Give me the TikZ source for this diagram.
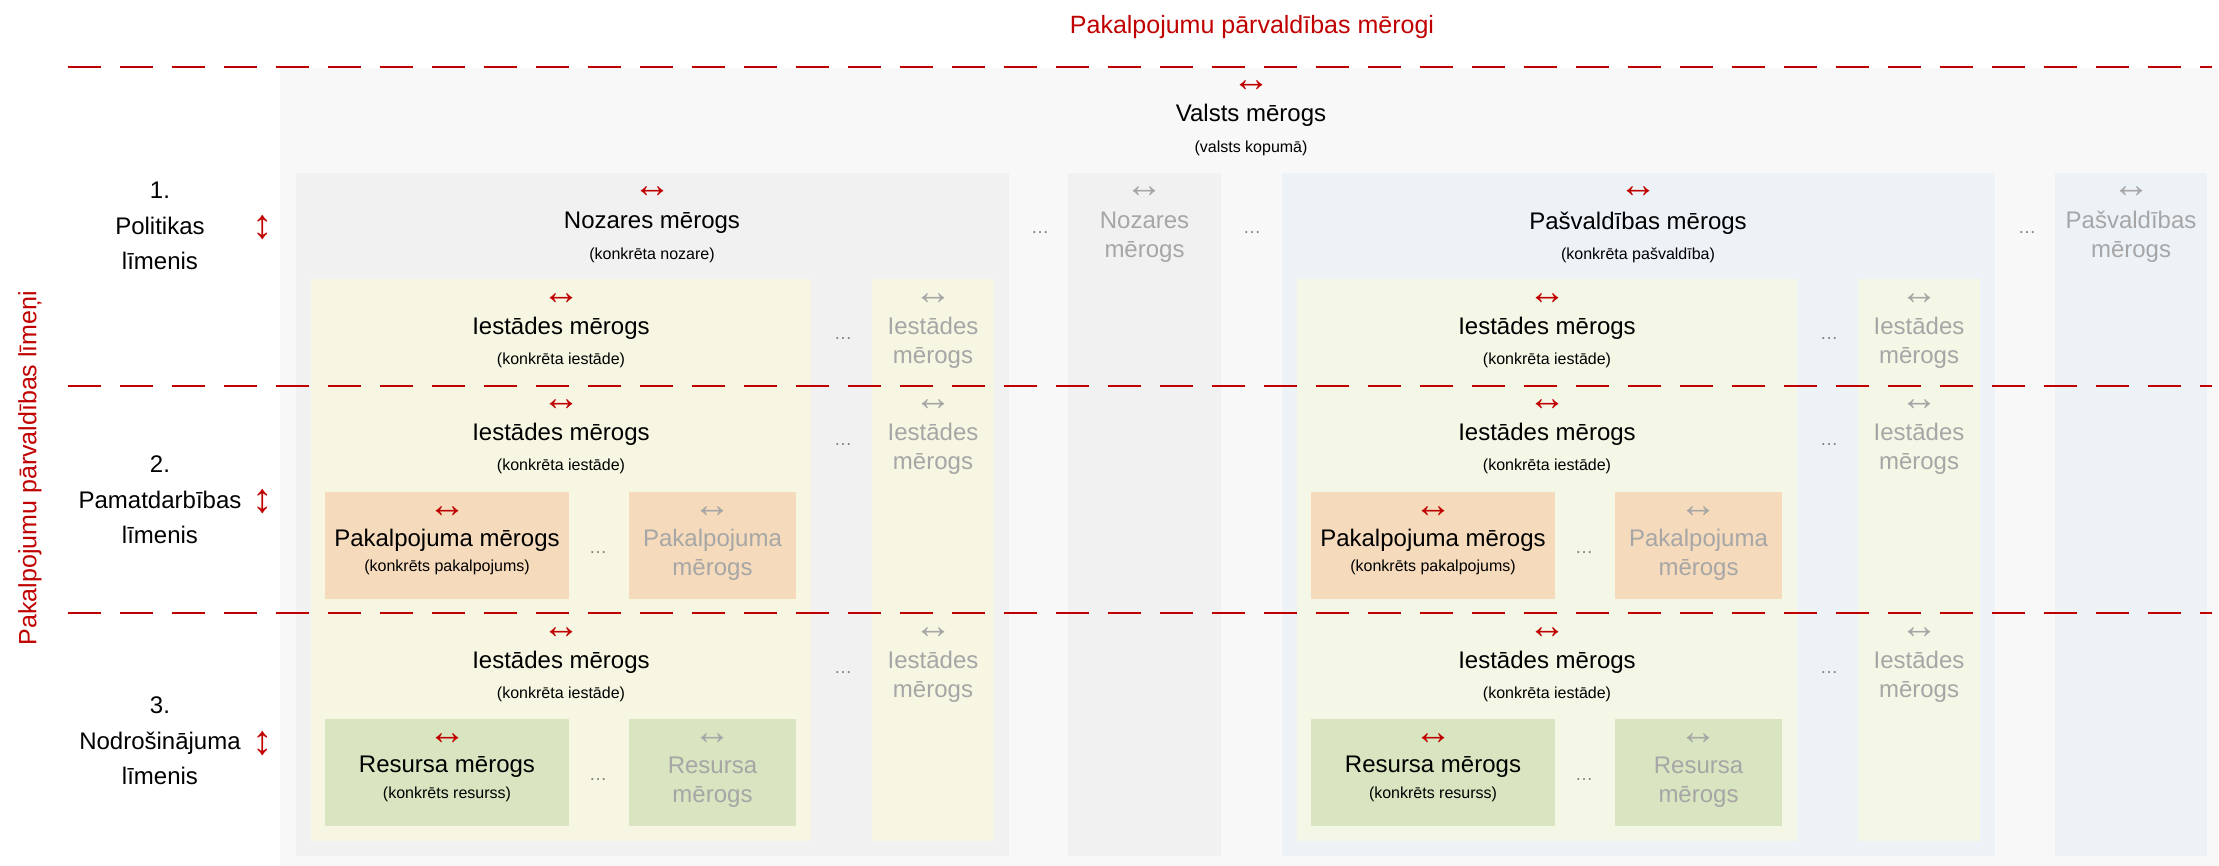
\documentclass[tikz,border=0pt]{standalone}
\usepackage{fontspec}
\setmainfont{Liberation Sans}
\usepackage{xcolor}

\definecolor{redline}{HTML}{C00000}
\definecolor{valstsbg}{HTML}{F8F8F8}
\definecolor{nozbg}{HTML}{F1F1F1}
\definecolor{pasvbg}{HTML}{EDF2F7}
\definecolor{iestbgA}{HTML}{F7F6E2}
\definecolor{iestbgB}{HTML}{F4F6E6}
\definecolor{pakbg}{HTML}{F5DBBC}
\definecolor{resbg}{HTML}{D8E5C0}
\definecolor{ghost}{HTML}{A6A6A6}
\definecolor{dotsgray}{HTML}{808080}

\tikzset{
  area/.style={anchor=north west, inner sep=0pt, outer sep=0pt},
  big/.style={font=\fontsize{24}{29}\selectfont, align=center, inner sep=0pt},
  small/.style={font=\fontsize{16}{19}\selectfont, inner sep=0pt},
  arr/.style={font=\fontsize{38}{40}\selectfont, text=redline, inner sep=0pt},
  varr/.style={arr, font=\fontsize{41}{43}\selectfont},
  ghostarr/.style={arr, text=ghost},
  ghosttxt/.style={big, text=ghost},
  more/.style={font=\fontsize{18}{20}\selectfont, text=dotsgray, inner sep=0pt},
  lvltxt/.style={font=\fontsize{24}{35.5}\selectfont, align=center, inner sep=0pt},
  redtxt/.style={font=\fontsize{25}{30}\selectfont, text=redline, inner sep=0pt},
  divider/.style={draw=redline, line width=2.5pt, dash pattern=on 33pt off 19pt},
}

\begin{document}
\begin{tikzpicture}[x=1pt, y=-1pt]
\useasboundingbox (0,0) rectangle (2219,866);

\node[area, fill=valstsbg, minimum width=1939pt, minimum height=798pt] (valsts) at (280,68) {};
\node[arr] (valsts-arr) at (1251,86) {↔};
\node[big] (valsts-t) at (1251,115) {Valsts mērogs};
\node[small] (valsts-s) at (1251,148) {(valsts kopumā)};

\node[area, fill=nozbg, minimum width=153pt, minimum height=683pt] (nozB) at (1068,173) {};
\node[ghostarr] (nozB-arr) at (1144.5,192) {↔};
\node[ghosttxt] (nozB-t) at (1144.5,237) {Nozares\\mērogs};

\node[area, fill=pasvbg, minimum width=152pt, minimum height=683pt] (pasvB) at (2055,173) {};
\node[ghostarr] (pasvB-arr) at (2131,192) {↔};
\node[ghosttxt] (pasvB-t) at (2131,237) {Pašvaldības\\mērogs};

\node[more] (more1) at (1040,233) {…};
\node[more] (more2) at (1252,233) {…};
\node[more] (more3) at (2027,233) {…};

\foreach \X/\n/\bg/\ibg/\t/\s in {296/noz/nozbg/iestbgA/Nozares mērogs/(konkrēta nozare), 1282/pasv/pasvbg/iestbgB/Pašvaldības mērogs/(konkrēta pašvaldība)} {
  \node[area, fill=\bg, minimum width=713pt, minimum height=683pt] (\n) at (\X,173) {};
  \node[arr] (\n-arr) at (\X+356,192) {↔};
  \node[big] (\n-t) at (\X+356,223) {\t};
  \node[small] (\n-s) at (\X+356,255) {\s};
  \node[area, fill=\ibg, minimum width=500pt, minimum height=562pt] (\n-iest) at (\X+15,279) {};
  \node[area, fill=\ibg, minimum width=122pt, minimum height=562pt] (\n-iestB) at (\X+576,279) {};
  \foreach \ya [count=\r] in {299,405,633} {
    \node[arr] (\n-i\r-arr) at (\X+265,\ya) {↔};
    \node[big] (\n-i\r-t) at (\X+265,\ya+29) {Iestādes mērogs};
    \node[small] (\n-i\r-s) at (\X+265,\ya+61) {(konkrēta iestāde)};
    \node[more] (\n-i\r-more) at (\X+547,\ya+40) {…};
    \node[ghostarr] (\n-iB\r-arr) at (\X+637,\ya) {↔};
    \node[ghosttxt] (\n-iB\r-t) at (\X+637,\ya+43.5) {Iestādes\\mērogs};
  }
  \foreach \yb/\k/\c/\w/\u in {492/pak/pakbg/Pakalpojuma/pakalpojums, 719/res/resbg/Resursa/resurss} {
    \node[area, fill=\c, minimum width=244pt, minimum height=107pt] (\n-\k) at (\X+29,\yb) {};
    \node[arr] (\n-\k-arr) at (\X+151,\yb+20) {↔};
    \node[big] (\n-\k-t) at (\X+151,\yb+48) {\w\ mērogs};
    \node[small] (\n-\k-s) at (\X+151,\yb+75) {(konkrēts \u)};
    \node[more] (\n-\k-more) at (\X+302,\yb+61) {…};
    \node[area, fill=\c, minimum width=167pt, minimum height=107pt] (\n-\k B) at (\X+333,\yb) {};
    \node[ghostarr] (\n-\k B-arr) at (\X+416.5,\yb+20) {↔};
    \node[ghosttxt] (\n-\k B-t) at (\X+416.5,\yb+63) {\w\\mērogs};
  }
}

\node[redtxt] (title) at (1252,27) {Pakalpojumu pārvaldības mērogi};
\node[redtxt, rotate=90] (levels) at (30,468) {Pakalpojumu pārvaldības līmeņi};

\node[lvltxt] (lvl1) at (160,226) {1.\\Politikas\\līmenis};
\node[varr] (lvl1-arr) at (263,228) {↕};
\node[lvltxt] (lvl2) at (160,500) {2.\\Pamatdarbības\\līmenis};
\node[varr] (lvl2-arr) at (263,502) {↕};
\node[lvltxt] (lvl3) at (160,741) {3.\\Nodrošinājuma\\līmenis};
\node[varr] (lvl3-arr) at (263,744) {↕};

\foreach \yl in {67,386,613}
  \draw[divider] (68,\yl) -- (2212,\yl);
\end{tikzpicture}
\end{document}
